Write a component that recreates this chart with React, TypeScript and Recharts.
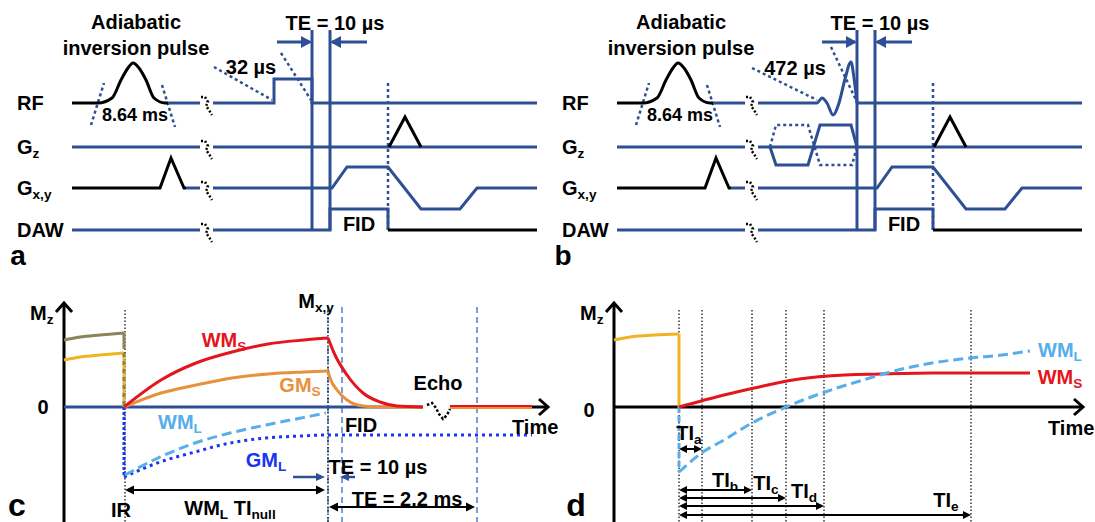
import React from 'react';
import { LineChart, Line, XAxis, YAxis, ReferenceDot } from 'recharts';

type Pt = [number, number];
type Part = [string, boolean]; // [text, isSubscript]

const FONT = '"Liberation Sans", Arial, sans-serif';
const NAVY = '#2f4f94';
const BLACK = '#000000';
const RED = '#e3161d';
const ORANGE = '#e8913c';
const LIGHT_BLUE = '#56aeea';
const GM_BLUE = '#1a35f0';
const OLIVE = '#8a8458';
const YELLOW = '#f0b323';
const GUIDE_BLUE = '#4f7fd0';

// ---------- panels a / b : pulse sequence (time, amplitude above row baseline) ----------
const ROW_BASE = { rf: 167, gz: 123, gxy: 82, daw: 40 };

const rfInversion: Pt[] = [[72, 0], [98, 0], [112, 5], [121, 23], [128, 35], [133, 40], [139, 35], [146, 23], [154, 5], [165, 0], [168, 0]];
const rfInversionTail: Pt[] = [[168, 0], [200, 0]];
const rfHardPulse: Pt[] = [[213, 0], [274, 0], [274, 24], [312, 24], [312, 0], [537, 0]];
const rfSincPulse: Pt[] = [[213, 0], [272, 0], [277, 5], [282, 0], [288, -12], [294, 0], [300, 24], [306, 41], [309, 25], [312, 0]];
const rfAfterSinc: Pt[] = [[312, 0], [537, 0]];

const gzPre: Pt[] = [[72, 0], [200, 0]];
const gzPost: Pt[] = [[213, 0], [537, 0]];
const gzSpoiler: Pt[] = [[389, 0], [405, 30], [421, 0]];
const gzSlice: Pt[] = [[225, 0], [231, -18], [263, -18], [275, 22], [306, 22], [312, 0]];
const gzSliceAlt: Pt[] = [[225, 0], [231, 22], [263, 22], [275, -18], [307, -18], [312, 0]];

const gxyPre: Pt[] = [[72, 0], [160, 0], [171, 30], [184, 0], [186, 0]];
const gxyPreTail: Pt[] = [[186, 0], [200, 0]];
const gxyReadout: Pt[] = [[213, 0], [332, 0], [347, 21], [388, 21], [421, -21], [460, -21], [477, 0], [537, 0]];

const dawPre: Pt[] = [[72, 0], [200, 0]];
const dawAcq: Pt[] = [[213, 0], [330, 0], [330, 21], [388, 21], [388, 0]];
const dawPost: Pt[] = [[388, 0], [537, 0]];

const breakMark: Pt[] = [[201, 6], [205, 6], [208, 1], [206, -3], [209, -7], [212, -12]];

const teWindow = [312, 330];
const teSpan: Pt = [40, 240];
const adcMarker: Pt[] = [[388, 40], [388, 190]];
const teArrowRight: Pt[] = [[277, 228], [310, 228]];
const teArrowLeft: Pt[] = [[332, 228], [367, 228]];

const invGuides: Pt[][] = [[[91, 145], [104, 187]], [[162, 185], [175, 143]]];
const hardGuides: Pt[][] = [[[214, 203], [272, 170]], [[281, 217], [311, 170]]];
const sincGuides: Pt[][] = [[[207, 202], [272, 170]], [[286, 223], [311, 170]]];

// ---------- panel c : Mz (time from axis, Mz) ----------
const olivePre: Pt[] = [[0, 67], [16, 70], [36, 72], [60, 74]];
const yellowPre: Pt[] = [[0, 47], [16, 50], [36, 52], [60, 54]];
const wmSRise: Pt[] = [[60, 0], [97, 27], [132, 44], [168, 55], [204, 63], [240, 67], [264, 69]];
const wmSFid: Pt[] = [[264, 69], [271, 52], [283, 32], [299, 14], [316, 5], [333, 1], [359, 0]];
const gmSRise: Pt[] = [[60, 0], [97, 14], [132, 22], [168, 29], [204, 33], [240, 35], [264, 36]];
const gmSFid: Pt[] = [[264, 36], [266, 29], [273, 17], [283, 7], [299, 1], [316, 0], [359, 0]];
const wmLRecovery: Pt[] = [[61, -68], [96, -50], [131, -36], [166, -26], [202, -18], [237, -11], [262, -6]];
const gmLRecovery: Pt[] = [[60, -70], [96, -55], [131, -45], [166, -36], [202, -31], [237, -29], [264, -28], [468, -28]];
const echoMark: Pt[] = [[363, 2], [368, 4], [372, -1], [375, -7], [379, -12], [383, -8], [386, -2]];
const cGuides = [264, 278, 413];

// ---------- panel d ----------
const yellowPreD: Pt[] = [[0, 67], [16, 70], [41, 72], [65, 73]];
const wmSD: Pt[] = [[65, 0], [110, 12], [145, 20], [179, 27], [214, 31], [266, 33], [318, 34], [416, 34]];
const wmLD: Pt[] = [[65, -65], [89, -45], [110, -33], [138, -16], [172, 0], [211, 15], [249, 27], [284, 37], [318, 44], [357, 49], [388, 52], [416, 56]];
const tiNames = ['a', 'b', 'c', 'd', 'e'];
const tiEnds = [88, 138, 172, 210, 357];
const tiRows = [-42, -83, -91, -99, -108];
const tiLabelPos: Pt[] = [[75, -26], [111, -73], [152, -76], [190, -84], [332, -93]];

type Txt = { x: number; y: number; parts: Part[]; size?: number; color?: string; anchor?: 'start' | 'middle' | 'end' };

const seg = (key: string, pts: Pt[], stroke: string, o: { w?: number; dash?: string; curve?: boolean; base?: number } = {}) => (
  <Line
    key={key}
    data={pts.map(([x, y]) => ({ x, y: y + (o.base ?? 0) }))}
    dataKey="y"
    type={o.curve ? 'monotone' : 'linear'}
    stroke={stroke}
    strokeWidth={o.w ?? 3}
    strokeDasharray={o.dash}
    dot={false}
    activeDot={false}
    isAnimationActive={false}
  />
);

const textShape = (t: Txt) => (p: any) => {
  const size = t.size ?? 20;
  return (
    <text x={p.cx} y={p.cy} textAnchor={t.anchor ?? 'middle'} dominantBaseline="central" fontFamily={FONT} fontWeight="bold" fontSize={size} fill={t.color ?? BLACK} style={{ whiteSpace: 'pre' }}>
      {t.parts.map(([s, sub], i) => {
        const prevSub = i > 0 && t.parts[i - 1][1];
        const dy = sub && !prevSub ? size * 0.3 : !sub && prevSub ? -size * 0.3 : 0;
        return (
          <tspan key={i} dy={dy} fontSize={sub ? size * 0.68 : size}>
            {s}
          </tspan>
        );
      })}
    </text>
  );
};

const label = (key: string, t: Txt) => (
  <ReferenceDot key={key} x={t.x} y={t.y} r={0} ifOverflow="visible" shape={textShape(t)} />
);

const headShape = (dir: 'l' | 'r' | 'u', len: number, half: number, color: string, open = false) => (p: any) => {
  const { cx, cy } = p;
  let d = '';
  if (dir === 'r') d = `M${cx - len},${cy - half}L${cx},${cy}L${cx - len},${cy + half}`;
  if (dir === 'l') d = `M${cx + len},${cy - half}L${cx},${cy}L${cx + len},${cy + half}`;
  if (dir === 'u') d = `M${cx - half},${cy + len}L${cx},${cy}L${cx + half},${cy + len}`;
  return open ? <path d={d} fill="none" stroke={color} strokeWidth={3} /> : <path d={d + 'Z'} fill={color} />;
};

const head = (key: string, x: number, y: number, dir: 'l' | 'r' | 'u', len: number, half: number, color: string, open = false) => (
  <ReferenceDot key={key} x={x} y={y} r={0} ifOverflow="visible" shape={headShape(dir, len, half, color, open)} />
);

const axes = (xd: Pt, yd: Pt) => [
  <XAxis key="x" type="number" dataKey="x" domain={xd} hide allowDataOverflow />,
  <YAxis key="y" type="number" domain={yd} hide allowDataOverflow />,
];

const PulseSequence = ({ variant }: { variant: 'a' | 'b' }) => {
  const b = variant === 'b';
  const rows = Object.values(ROW_BASE);
  const dotted = '3 3';
  return (
    <LineChart width={b ? 550 : 545} height={270} margin={{ top: 0, right: 0, bottom: 0, left: 0 }}>
      {axes([0, b ? 550 : 545], [0, 270])}
      {/* timing guides */}
      {(b ? [...invGuides, ...sincGuides] : [...invGuides, ...hardGuides]).map((g, i) => seg(`g${i}`, g, NAVY, { w: 2.5, dash: dotted }))}
      {seg('adc', adcMarker, NAVY, { w: 2.5, dash: dotted })}
      {rows.map((r, i) => seg(`brk${i}`, breakMark, BLACK, { w: 2.5, dash: '2 2', base: r }))}
      {/* RF */}
      {seg('rfInv', rfInversion, BLACK, { curve: true, base: ROW_BASE.rf })}
      {seg('rfInvTail', rfInversionTail, NAVY, { base: ROW_BASE.rf })}
      {b ? seg('rfSinc', rfSincPulse, NAVY, { curve: true, base: ROW_BASE.rf }) : seg('rfHard', rfHardPulse, NAVY, { base: ROW_BASE.rf })}
      {b && seg('rfAfter', rfAfterSinc, NAVY, { base: ROW_BASE.rf })}
      {/* Gz */}
      {seg('gzPre', gzPre, NAVY, { base: ROW_BASE.gz })}
      {seg('gzPost', gzPost, NAVY, { base: ROW_BASE.gz })}
      {b && seg('gzSliceAlt', gzSliceAlt, NAVY, { w: 2.5, dash: dotted, base: ROW_BASE.gz })}
      {b && seg('gzSlice', gzSlice, NAVY, { base: ROW_BASE.gz })}
      {seg('gzSpoil', gzSpoiler, BLACK, { base: ROW_BASE.gz })}
      {/* Gxy */}
      {seg('gxyPre', gxyPre, BLACK, { base: ROW_BASE.gxy })}
      {seg('gxyPreTail', gxyPreTail, NAVY, { base: ROW_BASE.gxy })}
      {seg('gxyRead', gxyReadout, NAVY, { base: ROW_BASE.gxy })}
      {/* DAW */}
      {seg('dawPre', dawPre, NAVY, { base: ROW_BASE.daw })}
      {seg('dawAcq', dawAcq, NAVY, { base: ROW_BASE.daw })}
      {seg('dawPost', dawPost, BLACK, { base: ROW_BASE.daw })}
      {/* TE window */}
      {teWindow.map((x, i) => seg(`te${i}`, [[x, teSpan[0]], [x, teSpan[1]]], NAVY))}
      {seg('teR', teArrowRight, NAVY)}
      {seg('teL', teArrowLeft, NAVY)}
      {head('teRh', 312, 228, 'r', 11, 6, NAVY)}
      {head('teLh', 330, 228, 'l', 11, 6, NAVY)}
      {/* labels */}
      {label('l1', { x: 136, y: 248, parts: [['Adiabatic', false]] })}
      {label('l2', { x: 136, y: 222, parts: [['inversion pulse', false]] })}
      {label('l3', { x: 135, y: 155, size: 18, parts: [['8.64 ms', false]] })}
      {label('l4', b ? { x: 250, y: 202, parts: [['472 µs', false]] } : { x: 251, y: 203, parts: [['32 µs', false]] })}
      {label('l5', { x: 335, y: 247, parts: [['TE = 10 µs', false]] })}
      {label('l6', { x: 359, y: 46, parts: [['FID', false]] })}
      {label('r1', { x: 17, y: ROW_BASE.rf, anchor: 'start', parts: [['RF', false]] })}
      {label('r2', { x: 17, y: ROW_BASE.gz, anchor: 'start', parts: [['G', false], ['z', true]] })}
      {label('r3', { x: 17, y: ROW_BASE.gxy, anchor: 'start', parts: [['G', false], ['x,y', true]] })}
      {label('r4', { x: 17, y: ROW_BASE.daw, anchor: 'start', parts: [['DAW', false]] })}
      {label('pl', { x: 18, y: 15, size: 28, parts: [[variant, false]] })}
    </LineChart>
  );
};

const PanelC = () => (
  <LineChart width={560} height={252} margin={{ top: 0, right: 0, bottom: 0, left: 0 }}>
    {axes([-64, 496], [-115, 137])}
    {cGuides.map((x, i) => seg(`cg${i}`, [[x, 100], [x, -115]], GUIDE_BLUE, { w: 1.5, dash: '6 4' }))}
    {seg('mxyDot', [[264, 100], [264, -115]], BLACK, { w: 1.2, dash: '1.5 2' })}
    {seg('irDot', [[61, 97], [61, -115]], BLACK, { w: 1.2, dash: '1.5 2' })}
    {/* axes */}
    {seg('yAxis', [[0, -115], [0, 103]], BLACK)}
    {head('yAh', 0, 104, 'u', 9, 8, BLACK, true)}
    {seg('xAxis', [[0, 0], [359, 0]], NAVY)}
    {seg('xTail', [[468, 0], [483, 0]], BLACK)}
    {head('xAh', 484, 0, 'r', 9, 8, BLACK, true)}
    {seg('echo', echoMark, BLACK, { w: 2.5, dash: '2.5 2' })}
    {/* pre-inversion and inversion */}
    {seg('olive', olivePre, OLIVE, { curve: true })}
    {seg('yellow', yellowPre, YELLOW, { curve: true })}
    {seg('oliveV', [[60, 74], [60, 62]], OLIVE)}
    {seg('yellowV', [[60, 54], [60, 0]], YELLOW)}
    {seg('oliveVd', [[60, 62], [60, 0]], OLIVE, { dash: '4 4' })}
    {seg('gmLV', [[60, 0], [60, -70]], GM_BLUE, { dash: '3 2' })}
    {/* recovery */}
    {seg('gmL', gmLRecovery, GM_BLUE, { curve: true, dash: '3 4' })}
    {seg('wmL', wmLRecovery, LIGHT_BLUE, { curve: true, dash: '10 5' })}
    {seg('gmS', gmSRise, ORANGE, { curve: true })}
    {seg('gmSF', gmSFid, ORANGE, { curve: true })}
    {seg('wmS', wmSRise, RED, { curve: true })}
    {seg('wmSF', wmSFid, RED, { curve: true })}
    {seg('tailO', [[386, -1], [468, -1]], ORANGE, { w: 2 })}
    {seg('tailR', [[386, 1], [468, 1]], RED, { w: 2 })}
    {/* arrows */}
    {seg('te1', [[229, -70], [257, -70]], NAVY, { w: 2.5 })}
    {head('te1h', 261, -70, 'r', 9, 4, NAVY)}
    {seg('te2', [[279, -70], [291, -70]], NAVY, { w: 2.5 })}
    {head('te2h', 276, -70, 'l', 9, 4, NAVY)}
    {seg('tinull', [[64, -83], [258, -83]], BLACK, { w: 2 })}
    {head('tin1', 61, -83, 'l', 9, 4.5, BLACK)}
    {head('tin2', 261, -83, 'r', 9, 4.5, BLACK)}
    {seg('te22', [[268, -100], [408, -100]], BLACK, { w: 2 })}
    {head('te221', 265, -100, 'l', 9, 4.5, BLACK)}
    {head('te222', 411, -100, 'r', 9, 4.5, BLACK)}
    {/* labels */}
    {label('mz', { x: -34, y: 94, anchor: 'start', parts: [['M', false], ['z', true]] })}
    {label('zero', { x: -21, y: 0, parts: [['0', false]] })}
    {label('time', { x: 448, y: -20, anchor: 'start', parts: [['Time', false]] })}
    {label('mxy', { x: 252, y: 106, parts: [['M', false], ['x,y', true]] })}
    {label('wms', { x: 160, y: 67, color: RED, parts: [['WM', false], ['S', true]] })}
    {label('gms', { x: 236, y: 22, color: ORANGE, parts: [['GM', false], ['S', true]] })}
    {label('echoT', { x: 374, y: 24, parts: [['Echo', false]] })}
    {label('wml', { x: 116, y: -15, color: LIGHT_BLUE, parts: [['WM', false], ['L', true]] })}
    {label('fid', { x: 297, y: -18, parts: [['FID', false]] })}
    {label('gml', { x: 202, y: -53, color: GM_BLUE, parts: [['GM', false], ['L', true]] })}
    {label('te10', { x: 314, y: -60, parts: [['TE = 10 µs', false]] })}
    {label('tin', { x: 166, y: -101, parts: [['WM', false], ['L', true], [' TI', false], ['null', true]] })}
    {label('te22t', { x: 343, y: -92, parts: [['TE = 2.2 ms', false]] })}
    {label('ir', { x: 57, y: -103, parts: [['IR', false]] })}
    {label('pc', { x: -47, y: -98, size: 32, parts: [['c', false]] })}
  </LineChart>
);

const PanelD = () => (
  <LineChart width={535} height={252} margin={{ top: 0, right: 0, bottom: 0, left: 0 }}>
    {axes([-54, 481], [-115, 137])}
    {[65, ...tiEnds].map((x, i) => seg(`dv${i}`, [[x, 97], [x, -115]], BLACK, { w: 1.2, dash: '1.5 2' }))}
    {seg('yAxis', [[0, -115], [0, 103]], BLACK)}
    {head('yAh', 0, 104, 'u', 9, 8, BLACK, true)}
    {seg('xAxis', [[0, 0], [468, 0]], BLACK)}
    {head('xAh', 469, 0, 'r', 9, 8, BLACK, true)}
    {seg('yellow', yellowPreD, YELLOW, { curve: true })}
    {seg('yellowV', [[65, 73], [65, 0]], YELLOW)}
    {seg('wmLV', [[65, 0], [65, -65]], LIGHT_BLUE, { dash: '6 3' })}
    {seg('wmS', wmSD, RED, { curve: true })}
    {seg('wmL', wmLD, LIGHT_BLUE, { curve: true, dash: '10 5' })}
    {tiEnds.map((x, i) => [
      seg(`ti${i}`, [[68, tiRows[i]], [x - 3, tiRows[i]]], BLACK, { w: 2 }),
      head(`til${i}`, 65, tiRows[i], 'l', 8, 4, BLACK),
      head(`tir${i}`, x, tiRows[i], 'r', 8, 4, BLACK),
      label(`tit${i}`, { x: tiLabelPos[i][0], y: tiLabelPos[i][1], parts: [['TI', false], [tiNames[i], true]] }),
    ])}
    {label('mz', { x: -34, y: 94, anchor: 'start', parts: [['M', false], ['z', true]] })}
    {label('zero', { x: -25, y: -3, parts: [['0', false]] })}
    {label('time', { x: 434, y: -21, anchor: 'start', parts: [['Time', false]] })}
    {label('wml', { x: 446, y: 57, color: LIGHT_BLUE, parts: [['WM', false], ['L', true]] })}
    {label('wms', { x: 446, y: 30, color: RED, parts: [['WM', false], ['S', true]] })}
    {label('pd', { x: -38, y: -98, size: 32, parts: [['d', false]] })}
  </LineChart>
);

export default function App() {
  return (
    <div style={{ position: 'absolute', left: 0, top: 0, width: 1095, height: 522, background: '#fff', overflow: 'hidden' }}>
      <div style={{ position: 'absolute', left: 0, top: 0 }}>
        <PulseSequence variant="a" />
      </div>
      <div style={{ position: 'absolute', left: 545, top: 0 }}>
        <PulseSequence variant="b" />
      </div>
      <div style={{ position: 'absolute', left: 0, top: 270 }}>
        <PanelC />
      </div>
      <div style={{ position: 'absolute', left: 560, top: 270 }}>
        <PanelD />
      </div>
    </div>
  );
}
